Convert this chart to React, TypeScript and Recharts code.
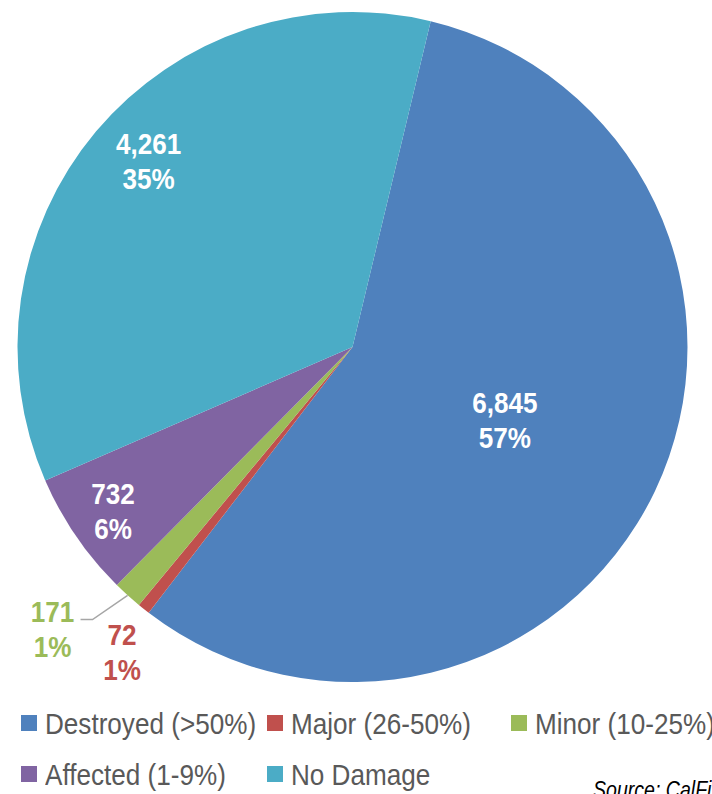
import React from 'react';
import { PieChart, Pie, Cell, Legend } from 'recharts';

const categories = ['Destroyed (>50%)', 'Major (26-50%)', 'Minor (10-25%)', 'Affected (1-9%)', 'No Damage'];
const counts = [6845, 72, 171, 732, 4261];
const colors = ['#4F81BD', '#C0504D', '#9BBB59', '#8064A2', '#4BACC6'];
const sourceText = 'Source: CalFire';

const data = categories.map((name, i) => ({ name, value: counts[i] }));

// label placement style: [radius factor, angle offset (deg), colour, leader line]
const labelStyle = [
  { r: 0.504, da: 0, color: '#FFFFFF', leader: false },
  { r: 1.142, da: 1.5, color: '#C0504D', leader: false },
  { r: 1.229, da: -4.6, color: '#9BBB59', leader: true },
  { r: 0.866, da: 0, color: '#FFFFFF', leader: false },
  { r: 0.823, da: -2.3, color: '#FFFFFF', leader: false },
];

const FONT = '"Liberation Sans", Arial, sans-serif';
const RAD = Math.PI / 180;

const renderLabel = (props: any) => {
  const { cx, cy, midAngle, outerRadius, index, value, percent } = props;
  const s = labelStyle[index];
  const a = (midAngle + s.da) * RAD;
  const ax = cx + outerRadius * s.r * Math.cos(-a);
  const ay = cy + outerRadius * s.r * Math.sin(-a);
  const pct = Math.round(percent * 100);
  let leader = null;
  if (s.leader) {
    const ma = midAngle * RAD;
    const sx = cx + outerRadius * Math.cos(-ma);
    const sy = cy + outerRadius * Math.sin(-ma);
    leader = (
      <polyline
        points={`${sx},${sy} ${ax + 40},${ay - 9.5} ${ax + 28},${ay - 9.5}`}
        fill="none"
        stroke="#A6A6A6"
        strokeWidth={1.5}
      />
    );
  }
  return (
    <g key={`lbl-${index}`}>
      {leader}
      <text
        transform={`translate(${ax} 0) scale(0.9 1)`}
        x={0}
        textAnchor="middle"
        fill={s.color}
        fontFamily={FONT}
        fontWeight="bold"
        fontSize={29}
      >
        <tspan x={0} y={ay - 7}>{value.toLocaleString('en-US')}</tspan>
        <tspan x={0} y={ay + 28}>{pct}%</tspan>
      </text>
    </g>
  );
};

const colWidths = [246, 244, 201, 246, 244];

const renderLegend = () => {
  return (
    <div
      style={{
        display: 'grid',
        gridTemplateColumns: '246px 244px 201px',
        gridAutoRows: '51px',
        paddingLeft: 21,
        fontFamily: FONT,
        fontSize: 30,
        color: '#595959',
      }}
    >
      {categories.map((name, i) => (
        <div
          key={`leg-${i}`}
          style={{ display: 'flex', alignItems: 'center', whiteSpace: 'nowrap', width: colWidths[i] }}
        >
          <span style={{ display: 'inline-block', width: 16, height: 16, background: colors[i], marginRight: 8, flex: 'none' }} />
          <span
            style={{
              lineHeight: '30px',
              position: 'relative',
              top: 1,
              display: 'inline-block',
              transform: 'scaleX(0.87)',
              transformOrigin: 'left center',
            }}
          >
            {name}
          </span>
        </div>
      ))}
    </div>
  );
};

export default function App() {
  return (
    <div style={{ position: 'absolute', left: 0, top: 0, width: 712, height: 794, overflow: 'hidden', background: '#fff' }}>
      <PieChart width={712} height={794} margin={{ top: 0, right: 0, bottom: 0, left: 0 }}>
        <Pie
          data={data}
          dataKey="value"
          nameKey="name"
          cx={352.5}
          cy={347}
          outerRadius={335}
          startAngle={76.5}
          endAngle={-283.5}
          stroke="none"
          label={renderLabel}
          labelLine={false}
          isAnimationActive={false}
        >
          {data.map((d, i) => (
            <Cell key={`cell-${i}`} fill={colors[i]} />
          ))}
        </Pie>
        <Legend
          content={renderLegend}
          wrapperStyle={{ position: 'absolute', left: 0, top: 697, width: 712 }}
        />
      </PieChart>
      <div
        style={{
          position: 'absolute',
          left: 593,
          top: 777,
          fontFamily: FONT,
          fontStyle: 'italic',
          fontSize: 23,
          color: '#000',
          whiteSpace: 'nowrap',
          transform: 'scaleX(0.85)',
          transformOrigin: 'left center',
        }}
      >
        {sourceText}
      </div>
    </div>
  );
}
